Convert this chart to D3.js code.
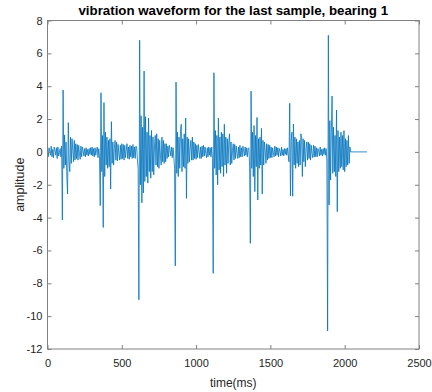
<!DOCTYPE html>
<html lang="en">
<head>
<meta charset="UTF-8">
<title>vibration waveform</title>
<script src="https://cdn.jsdelivr.net/npm/d3@7"></script>
<style>
body { margin: 0; background: #fff; }
svg { display: block; font-family: "Liberation Sans", Arial, Helvetica, sans-serif; }
.tick text { fill: #262626; font-size: 11px; }
</style>
</head>
<body>
<div id="chart"></div>
<script>
// sample spacing of the waveform (ms)
var dt = 5;

// amplitude, one row per 100 ms (20 samples each)
var amplitude = [
  // 0 - 95
  0.2,-0.3,0.25,0.05,-0.2,0.35,-0.3,0.15,-0.35,0.3,0.1,-0.2,0.25,-0.4,0.3,-0.25,-0.05,0.2,-0.3,0.35,
  // 100 - 195
  -4.15,3.77,-1.0,1.03,-0.8,0.6,-1.5,-2.56,1.78,-0.6,-1.2,0.9,-0.7,0.8,0.1,-0.6,0.7,-0.5,0.5,-0.4,
  // 200 - 295
  0.45,-0.5,0.4,-0.1,-0.45,0.35,-0.3,0.3,0.05,-0.25,0.2,-0.3,0.25,-0.2,0.15,-0.25,0.2,-0.15,0.25,-0.2,
  // 300 - 395
  0.3,-0.25,0.2,-0.3,0.25,-0.2,0.1,0.3,-0.35,0.2,-0.3,-3.27,3.6,-1.2,1.0,-4.6,3.0,-1.5,1.2,-0.8,
  // 400 - 495
  0.9,-1.0,0.7,-0.9,0.8,-2.26,1.84,-0.7,0.6,-0.8,0.2,0.7,-0.5,0.6,-0.55,0.45,-0.1,-0.5,0.4,-0.45,
  // 500 - 595
  0.5,-0.4,0.45,-0.5,0.4,-0.35,0.1,0.5,-0.4,0.3,-0.45,0.4,-0.3,0.35,-0.4,0.45,-0.35,0.3,-0.4,0.35,
  // 600 - 695
  0.3,-0.5,-1.0,-9.0,6.8,-2.0,2.2,-3.1,1.5,-2.5,4.92,-1.8,2.14,-1.5,1.2,-1.9,2.06,-1.2,1.0,-1.6,
  // 700 - 795
  1.3,-1.2,0.9,-1.4,0.3,1.0,-0.8,1.1,-0.9,0.8,-1.0,0.7,-0.2,-0.8,0.9,-0.6,0.7,-0.7,0.5,-0.6,
  // 800 - 895
  0.5,-0.4,0.35,-0.3,0.4,0.1,-0.25,0.3,-0.35,0.25,-0.3,-1.0,-6.94,4.25,-1.3,1.2,-1.5,0.9,-1.0,1.3,
  // 900 - 995
  1.68,-1.2,0.8,-0.9,1.1,-1.0,2.06,-2.83,0.9,-0.7,0.8,-0.6,0.2,0.7,-0.5,0.9,-0.5,0.6,-0.4,0.5,
  // 1000 - 1095
  -0.45,0.4,-0.35,0.45,0.05,-0.4,0.3,-0.4,0.35,-0.3,0.4,-0.25,0.3,-0.1,-0.35,0.25,-0.3,0.3,-0.2,0.25,
  // 1100 - 1195
  -0.3,0.3,-0.4,-7.39,4.82,-1.0,1.3,-1.4,1.0,-2.0,2.06,-1.1,0.9,-1.3,1.2,-0.9,1.1,-1.5,1.68,-0.8,
  // 1200 - 1295
  0.9,-1.3,0.8,-0.7,0.6,1.1,-0.8,0.6,-0.7,0.1,0.5,-0.5,0.45,-0.4,0.35,-0.05,-0.4,0.3,-0.35,0.4,
  // 1300 - 1395
  -0.3,0.25,-0.3,0.35,0.05,-0.25,0.3,-0.2,0.25,-0.3,0.2,0.25,-0.8,-5.57,3.7,-1.0,1.2,-1.5,1.6,-2.42,
  // 1400 - 1495
  1.0,-0.9,2.1,-2.93,0.8,-1.0,0.9,-0.8,1.43,-2.56,0.7,-0.8,0.6,0.1,-0.7,0.5,-0.5,0.45,-0.4,0.4,
  // 1500 - 1595
  -0.35,0.3,-0.35,0.25,-0.05,-0.3,0.35,-0.25,0.3,-0.2,0.25,-0.3,0.2,0.05,-0.25,0.3,-0.2,0.15,-0.25,0.2,
  // 1600 - 1695
  -0.15,0.2,-0.2,0.25,-0.2,-0.6,2.96,-2.68,0.7,1.2,-2.7,1.7,-0.8,0.9,-1.0,0.8,-0.7,0.6,-0.9,0.7,
  // 1700 - 1795
  -0.8,1.1,0.9,-1.5,0.8,-0.6,0.7,-0.9,0.2,0.6,-0.5,0.6,-0.4,0.5,-0.5,0.4,-0.1,-0.35,0.4,-0.3,
  // 1800 - 1895
  0.35,-0.3,0.25,-0.3,0.2,0.05,-0.25,0.3,-0.2,0.15,-0.25,0.2,-0.15,0.25,-0.2,0.2,-0.5,-10.9,7.1,-3.23,
  // 1900 - 1995
  1.9,-1.71,1.2,3.4,-1.3,1.5,-1.2,1.0,-1.5,2.55,-3.64,1.3,-1.2,0.9,-1.0,1.2,-0.9,1.0,-1.1,1.3,
  // 2000 - 2035
  -1.2,0.8,-0.9,0.7,-0.8,1.0,-0.7,0.3
];

// zero tail after the recording ends (ms, amplitude)
var tailTime = [2040, 2150];
var tailValue = [0, 0];

var xTicks = [0, 500, 1000, 1500, 2000, 2500];
var yTicks = [-12, -10, -8, -6, -4, -2, 0, 2, 4, 6, 8];

var points = amplitude.map(function (v, i) { return [i * dt, v]; });
tailTime.forEach(function (t, i) { points.push([t, tailValue[i]]); });

var width = 432, height = 392;
var margin = { top: 20.5, right: 13, bottom: 43, left: 47.5 };
var w = width - margin.left - margin.right,
    h = height - margin.top - margin.bottom;

var x = d3.scaleLinear().domain([0, 2500]).range([0, w]);
var y = d3.scaleLinear().domain([-12, 8]).range([h, 0]);

// plain hyphen minus, no thousands separator (matlab style)
var fmt = function (d) { return String(d); };

var svg = d3.select("#chart").append("svg")
  .attr("width", width)
  .attr("height", height);

var g = svg.append("g")
  .attr("transform", "translate(" + margin.left + "," + margin.top + ")");

// waveform
g.append("path")
  .datum(points)
  .attr("fill", "none")
  .attr("stroke", "#0072BD")
  .attr("stroke-width", 0.8)
  .attr("d", d3.line().x(function (d) { return x(d[0]); }).y(function (d) { return y(d[1]); }));

var tl = 4;
var axisColor = "#808080";

// axes with inward ticks
g.append("g").attr("transform", "translate(0," + h + ")")
  .call(d3.axisBottom(x).tickValues(xTicks).tickFormat(fmt).tickSizeInner(-tl).tickSizeOuter(0).tickPadding(10));
g.append("g")
  .call(d3.axisLeft(y).tickValues(yTicks).tickFormat(fmt).tickSizeInner(-tl).tickSizeOuter(0).tickPadding(5));
// mirrored ticks top and right
g.append("g")
  .call(d3.axisTop(x).tickValues(xTicks).tickSizeInner(-tl).tickSizeOuter(0).tickFormat(""));
g.append("g").attr("transform", "translate(" + w + ",0)")
  .call(d3.axisRight(y).tickValues(yTicks).tickSizeInner(-tl).tickSizeOuter(0).tickFormat(""));

g.selectAll(".domain").remove();
g.selectAll(".tick line").attr("stroke", axisColor);

// box
g.append("rect")
  .attr("x", 0).attr("y", 0).attr("width", w).attr("height", h)
  .attr("fill", "none").attr("stroke", axisColor).attr("stroke-width", 1);

// title and labels
svg.append("text")
  .attr("x", margin.left + w / 2).attr("y", 15)
  .attr("text-anchor", "middle")
  .attr("font-weight", "bold").attr("font-size", 13.3).attr("fill", "#000")
  .text("vibration waveform for the last sample, bearing 1");

svg.append("text")
  .attr("x", margin.left + w / 2).attr("y", 387)
  .attr("text-anchor", "middle")
  .attr("font-size", 12).attr("fill", "#262626")
  .text("time(ms)");

svg.append("text")
  .attr("transform", "translate(24," + (margin.top + y(-2)) + ") rotate(-90)")
  .attr("text-anchor", "middle")
  .attr("font-size", 12.5).attr("fill", "#262626")
  .text("amplitude");
</script>
</body>
</html>
